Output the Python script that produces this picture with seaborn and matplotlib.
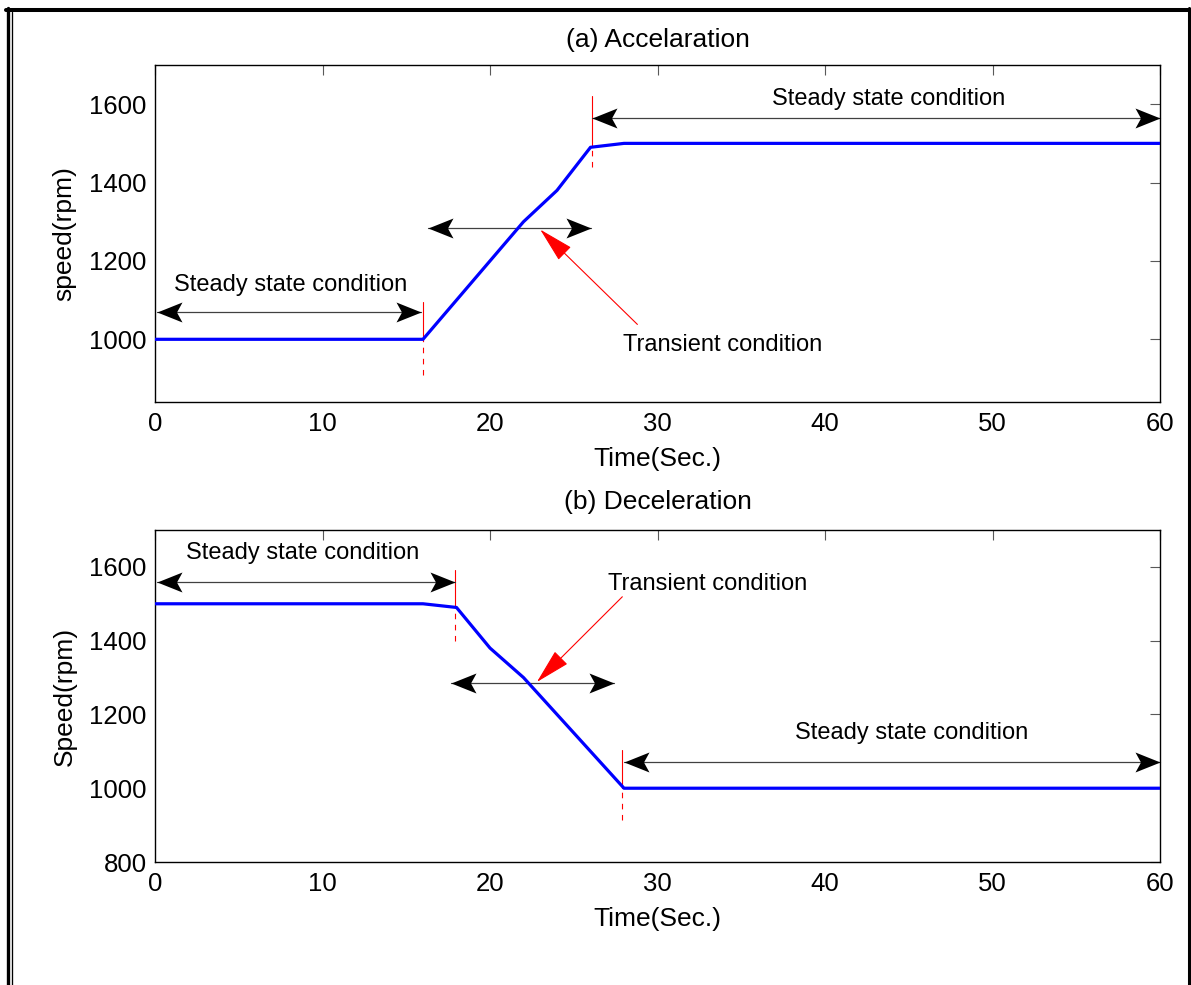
import matplotlib
matplotlib.use("Agg")
import matplotlib.pyplot as plt
import pandas as pd
import seaborn as sns
from matplotlib.path import Path
from matplotlib.lines import Line2D

# speed profiles
time_acc = [0, 16, 22, 24, 26, 28, 60]
speed_acc = [1000, 1000, 1300, 1380, 1490, 1500, 1500]
time_dec = [0, 16, 18, 20, 22, 28, 60]
speed_dec = [1500, 1500, 1490, 1380, 1300, 1000, 1000]

# annotations (x0, x1, y) for the double arrows
acc_arrows = [(0.1, 15.9, 1070), (16.3, 26.0, 1283), (26.1, 60, 1565)]
dec_arrows = [(0.1, 17.9, 1560), (17.7, 27.4, 1286), (28.0, 60, 1070)]
# red event marks (x, bottom, curve, top)
acc_marks = [(16.0, 910, 1000, 1095), (26.1, 1440, 1492, 1620)]
dec_marks = [(17.9, 1400, 1490, 1592), (27.9, 915, 1000, 1103)]
# labels (x, y, text)
acc_labels = [(8.1, 1122, "Steady state condition"),
              (43.8, 1598, "Steady state condition"),
              (33.9, 969, "Transient condition")]
dec_labels = [(8.8, 1621, "Steady state condition"),
              (33.0, 1536, "Transient condition"),
              (45.2, 1133, "Steady state condition")]
# red pointer arrows (tail, head)
acc_pointer = ((28.8, 1038), (23.0, 1280))
dec_pointer = ((27.9, 1519), (22.8, 1288))

sns.set_style("white")
plt.rcParams["font.family"] = ["Liberation Sans", "DejaVu Sans"]
plt.rcParams["text.color"] = "black"
plt.rcParams["axes.labelcolor"] = "black"

HEAD_R = Path([(0, 0), (-1, 0.4), (-0.78, 0), (-1, -0.4), (0, 0)],
              [Path.MOVETO, Path.LINETO, Path.LINETO, Path.LINETO, Path.CLOSEPOLY])
HEAD_L = Path([(0, 0), (1, 0.4), (0.78, 0), (1, -0.4), (0, 0)],
              [Path.MOVETO, Path.LINETO, Path.LINETO, Path.LINETO, Path.CLOSEPOLY])


def double_arrow(ax, x0, x1, y):
    ax.plot([x0, x1], [y, y], color="0.25", lw=0.9, clip_on=False)
    ax.plot([x0], [y], marker=HEAD_L, ms=36, color="black", mew=0, ls="none", clip_on=False)
    ax.plot([x1], [y], marker=HEAD_R, ms=36, color="black", mew=0, ls="none", clip_on=False)


def event_mark(ax, x, lo, mid, hi):
    ax.plot([x, x], [mid, hi], color="red", lw=0.8)
    ax.plot([x, x], [lo, mid], color="red", lw=0.8, ls=(0, (5, 5)))


def draw_panel(ax, t, s, title, ylabel, ylim, yticks, arrows, marks, labels, pointer, pad):
    df = pd.DataFrame({"time": t, "speed": s})
    sns.lineplot(data=df, x="time", y="speed", ax=ax, color="blue", lw=2.3,
                 estimator=None, zorder=3)
    for m in marks:
        event_mark(ax, *m)
    for a in arrows:
        double_arrow(ax, *a)
    for x, y, txt in labels:
        ax.text(x, y, txt, ha="center", va="baseline", fontsize=17)
    ax.annotate("", xy=pointer[1], xytext=pointer[0],
                arrowprops=dict(arrowstyle="-|>,head_length=1.5,head_width=0.38",
                                color="red", lw=0.8, mutation_scale=15,
                                shrinkA=0, shrinkB=0))
    ax.set_xlim(0, 60)
    ax.set_ylim(*ylim)
    ax.set_xticks(range(0, 61, 10))
    ax.set_yticks(yticks)
    ax.set_title(title, fontsize=19, pad=pad)
    ax.set_xlabel("Time(Sec.)", fontsize=19, labelpad=8)
    ax.set_ylabel(ylabel, fontsize=19, labelpad=9)
    ax.tick_params(direction="in", length=7, width=0.8, color="0.35", labelcolor="black",
                   top=True, right=True, labelsize=18.5)
    ax.tick_params(axis="x", pad=7)
    ax.tick_params(axis="y", pad=6)
    for sp in ax.spines.values():
        sp.set_color("black")
        sp.set_linewidth(1.0)


W, H = 1191, 985
fig = plt.figure(figsize=(W / 100, H / 100), dpi=100)
ax1 = fig.add_axes([155 / W, 1 - 402 / H, 1005 / W, 337 / H])
ax2 = fig.add_axes([155 / W, 1 - 862 / H, 1005 / W, 332 / H])

draw_panel(ax1, time_acc, speed_acc, "(a) Accelaration", "speed(rpm)", (840, 1700),
           [1000, 1200, 1400, 1600], acc_arrows, acc_marks, acc_labels, acc_pointer, 13)
draw_panel(ax2, time_dec, speed_dec, "(b) Deceleration", "Speed(rpm)", (800, 1700),
           [800, 1000, 1200, 1400, 1600], dec_arrows, dec_marks, dec_labels, dec_pointer, 15)

# outer frame
def frame_line(x0, y0, x1, y1, lw):
    fig.add_artist(Line2D([x0 / W, x1 / W], [1 - y0 / H, 1 - y1 / H],
                          transform=fig.transFigure, color="black", lw=lw))

frame_line(6, 10, 1190, 10, 2.9)
frame_line(7.8, 8, 7.8, H, 2.4)
frame_line(11.6, 12, 11.6, H, 0.95)
frame_line(1188.5, 8, 1188.5, H, 2.2)

fig.savefig("out.png", dpi=100, facecolor="white")
